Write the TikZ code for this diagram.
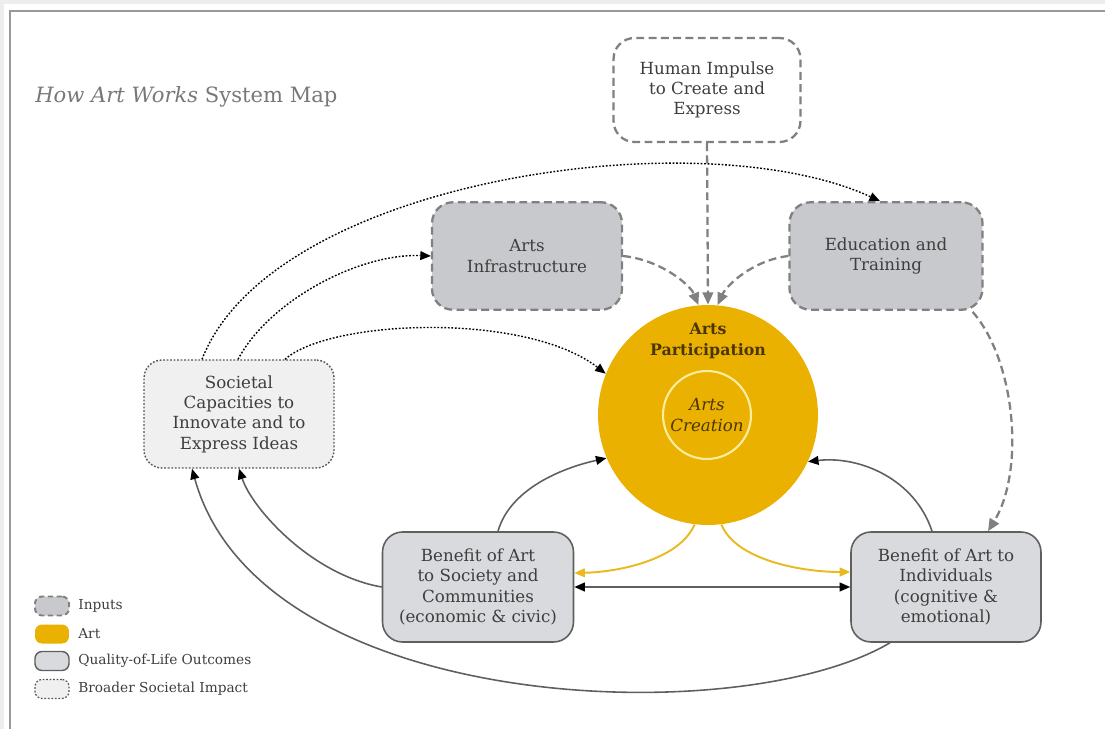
\documentclass[tikz,border=0pt]{standalone}
\usepackage{fontspec}
\setmainfont{DejaVu Serif}
\usetikzlibrary{arrows.meta,calc}

% Colours of the map
\definecolor{artgold}{RGB}{234,177,0}
\definecolor{goldline}{RGB}{232,186,30}
\definecolor{creationline}{RGB}{252,236,160}
\definecolor{inputfill}{RGB}{200,201,204}
\definecolor{inputline}{RGB}{128,128,128}
\definecolor{outcomefill}{RGB}{217,218,221}
\definecolor{outcomeline}{RGB}{95,95,95}
\definecolor{impactfill}{RGB}{240,240,241}
\definecolor{impactline}{RGB}{85,85,85}
\definecolor{textgray}{RGB}{62,62,62}
\definecolor{titlegray}{RGB}{120,120,120}
\definecolor{artbrown}{RGB}{75,54,8}

\begin{document}
\begin{tikzpicture}[x=0.02cm,y=-0.02cm,
    box/.style={rounded corners=0.42cm, align=center, text=textgray, inner sep=0pt,
      font=\fontsize{9.5}{11.6}\selectfont},
    inputbox/.style={box, fill=inputfill, draw=inputline, line width=1.3pt,
      dash pattern=on 4.5pt off 2.5pt, minimum width=3.8cm, minimum height=2.15cm},
    outcomebox/.style={box, fill=outcomefill, draw=outcomeline, line width=0.9pt,
      rounded corners=0.4cm, minimum width=3.82cm, minimum height=2.2cm},
    impactbox/.style={box, fill=impactfill, draw=impactline, line width=0.8pt,
      dash pattern=on 1pt off 1pt, rounded corners=0.36cm,
      minimum width=3.8cm, minimum height=2.16cm},
    inflow/.style={draw=inputline, line width=1.3pt, dash pattern=on 4.5pt off 2.5pt,
      -{Triangle[length=7pt,width=6pt]}},
    impact/.style={draw=black, line width=0.8pt, dash pattern=on 1pt off 1pt,
      -{Triangle[length=6pt,width=5pt]}},
    feedback/.style={draw=outcomeline, line width=0.9pt,
      -{Triangle[length=6pt,width=5pt,color=black]}},
    artflow/.style={draw=goldline, line width=1.1pt,
      -{Triangle[length=6pt,width=5pt]}},
    keybox/.style={rounded corners=0.14cm, minimum width=0.68cm, minimum height=0.38cm,
      inner sep=0pt},
    keytext/.style={anchor=west, text=textgray, inner sep=0pt,
      font=\fontsize{7.8}{9}\selectfont}]

  \useasboundingbox (0,0) rectangle (1105,729);

  % Frame
  \fill[black!7] (0,0) rectangle (1105,4);
  \fill[black!7] (0,0) rectangle (4,729);
  \draw[black!40, line width=1.6pt] (10,729) -- (10,11) -- (1105,11);

  % Title
  \node[anchor=west, text=titlegray, inner sep=0pt, font=\fontsize{12}{15}\selectfont]
    (title) at (35,97) {\textit{How Art Works} System Map};

  % Inputs
  \node[inputbox, fill=white, minimum width=3.74cm, minimum height=2.08cm]
    (impulse) at (707,90) {Human Impulse\\to Create and\\Express};
  \node[inputbox] (infra) at (527,256) {Arts\\Infrastructure};
  \node[inputbox, minimum width=3.86cm] (edu) at (886,256) {Education and\\Training};

  % Art
  \node[circle, fill=artgold, minimum size=4.4cm, inner sep=0pt] (art) at (708,415) {};
  \node[align=center, text=artbrown, inner sep=0pt, font=\fontsize{9}{11.7}\selectfont\bfseries]
    (participation) at (708,341) {Arts\\Participation};
  \node[circle, draw=creationline, line width=1.2pt, minimum size=1.76cm, inner sep=0pt,
    align=center, text=artbrown, font=\fontsize{9.5}{11.7}\selectfont\itshape]
    (creation) at (707,415) {Arts\\Creation};

  % Outcomes and impact
  \node[impactbox] (soc) at (239,414) {Societal\\Capacities to\\Innovate and to\\Express Ideas};
  \node[outcomebox] (society) at (478,587)
    {Benefit of Art\\to Society and\\Communities\\(economic \& civic)};
  \node[outcomebox, minimum width=3.8cm] (indiv) at (946,587)
    {Benefit of Art to\\Individuals\\(cognitive \&\\emotional)};

  % Inputs into participation
  \draw[inflow] (impulse.south) -- (art.north);
  \draw[inflow] (infra.east) .. controls +(38,4) and +(-8,-20) .. (art.95);
  \draw[inflow] (edu.west) .. controls +(-35,4) and +(9,-20) .. (art.85);
  \draw[inflow] ($(edu.south east)+(-11,1)$) .. controls +(43,49) and +(37,-60)
    .. ($(indiv.north)+(42,0)$);

  % Broader societal impact
  \draw[impact] ($(soc.north)+(-37,0)$) .. controls +(70,-180) and +(-180,-83)
    .. ($(edu.north)+(-6,0)$);
  \draw[impact] ($(soc.north)+(-1,0)$) .. controls +(32,-60) and +(-70,-3) .. (infra.west);
  \draw[impact] ($(soc.north)+(46,0)$) .. controls +(45,-40) and +(-80,-62) .. (art.158);

  % Feedback loops
  \draw[feedback] ($(society.north)+(20,0)$) .. controls +(12,-42) and +(-45,10) .. (art.203);
  \draw[feedback] ($(indiv.north)+(-14,0)$) .. controls +(-17,-52) and +(52,-6) .. (art.-25);
  \draw[feedback, {Triangle[length=6pt,width=5pt,color=black]}-{Triangle[length=6pt,width=5pt,color=black]}]
    (society.east) -- (indiv.west);
  \draw[feedback] (society.west) .. controls +(-70,-12) and +(13,40) .. (soc.south);
  \draw[feedback] ($(indiv.south)+(-56,0)$) .. controls +(-150,89) and +(68,246)
    .. ($(soc.south)+(-47,0)$);

  % Art into outcomes
  \draw[artflow] (art.-97) .. controls +(-15,35) and +(45,-1) .. (society.east |- 0,573);
  \draw[artflow] (art.-83) .. controls +(14,35) and +(-50,0) .. (indiv.west |- 0,572);

  % Legend
  \node[keybox, fill=inputfill, draw=inputline, line width=1.1pt, dash pattern=on 3pt off 2pt]
    (keyinput) at (52,606) {};
  \node[keybox, fill=artgold] (keyart) at (52,634) {};
  \node[keybox, fill=outcomefill, draw=outcomeline, line width=0.8pt] (keyoutcome) at (52,661) {};
  \node[keybox, fill=impactfill, draw=impactline, line width=0.7pt, dash pattern=on 1pt off 1pt]
    (keyimpact) at (52,689) {};
  \node[keytext] (lblinput) at (78,606) {Inputs};
  \node[keytext] (lblart) at (78,634) {Art};
  \node[keytext] (lbloutcome) at (78,661) {Quality-of-Life Outcomes};
  \node[keytext] (lblimpact) at (78,689) {Broader Societal Impact};
\end{tikzpicture}
\end{document}
